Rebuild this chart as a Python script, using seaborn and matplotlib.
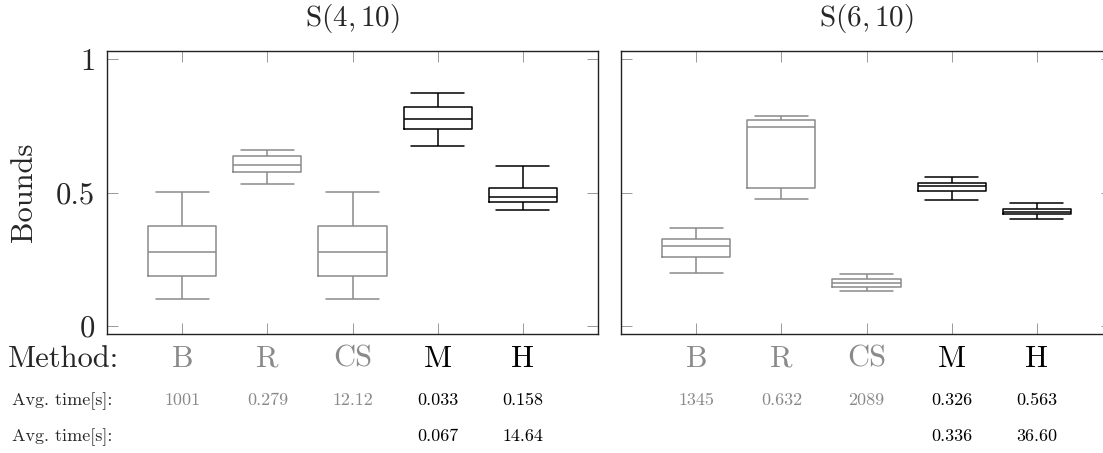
import matplotlib
matplotlib.use("Agg")
import matplotlib.pyplot as plt
import pandas as pd
import seaborn as sns


sns.set_style("ticks")
plt.rcParams["font.family"] = ["cmr10", "DejaVu Serif"]
plt.rcParams["mathtext.fontset"] = "cm"
plt.rcParams["axes.formatter.use_mathtext"] = True

methods = ["B", "R", "CS", "M", "H"]
method_colors = {"B": "#8a8a8a", "R": "#8a8a8a", "CS": "#8a8a8a", "M": "black", "H": "black"}

# five-number summaries: min, q1, median, q3, max
s4_min = [0.100, 0.533, 0.100, 0.675, 0.434]
s4_q1 = [0.187, 0.577, 0.187, 0.738, 0.463]
s4_med = [0.278, 0.603, 0.278, 0.777, 0.484]
s4_q3 = [0.375, 0.635, 0.375, 0.820, 0.516]
s4_max = [0.503, 0.658, 0.503, 0.873, 0.598]

s6_min = [0.197, 0.474, 0.130, 0.472, 0.402]
s6_q1 = [0.257, 0.516, 0.146, 0.506, 0.419]
s6_med = [0.298, 0.747, 0.160, 0.524, 0.428]
s6_q3 = [0.326, 0.770, 0.175, 0.537, 0.438]
s6_max = [0.368, 0.788, 0.195, 0.557, 0.459]

s4_time_1 = ["1001", "0.279", "12.12", "0.033", "0.158"]
s4_time_2 = ["", "", "", "0.067", "14.64"]
s6_time_1 = ["1345", "0.632", "2089", "0.326", "0.563"]
s6_time_2 = ["", "", "", "0.336", "36.60"]

panels = [
    ("$\\mathrm{S}(4,10)$", [s4_min, s4_q1, s4_med, s4_q3, s4_max], s4_time_1, s4_time_2),
    ("$\\mathrm{S}(6,10)$", [s6_min, s6_q1, s6_med, s6_q3, s6_max], s6_time_1, s6_time_2),
]


def to_long(stats):
    rows = []
    for i, m in enumerate(methods):
        for col in stats:
            rows.append({"method": m, "bound": col[i]})
    return pd.DataFrame(rows)


W, H = 1103, 453
fig = plt.figure(figsize=(W / 100, H / 100), dpi=100)
ax_w, ax_h = 491 / W, 283 / H
ax_bottom = (H - 334) / H
lefts = [107 / W, 621 / W]
small = 13

for k, (title, stats, t1, t2) in enumerate(panels):
    ax = fig.add_axes([lefts[k], ax_bottom, ax_w, ax_h])
    df = to_long(stats)
    sns.boxplot(
        data=df, x="method", y="bound", hue="method", order=methods,
        hue_order=methods, palette=method_colors, fill=False, width=0.8,
        whis=(0, 100), linewidth=1.1, legend=False, ax=ax, capwidths=0.63,
    )
    ax.set_xlim(-0.888, 4.888)
    ax.set_ylim(-0.03, 1.03)
    ax.set_yticks([0, 0.5, 1])
    ax.set_xticks(range(len(methods)))
    ax.set_xticklabels([])
    if k == 0:
        ax.set_yticklabels(["0", "0.5", "1"], fontsize=22)
    else:
        ax.set_yticklabels([])
    ax.tick_params(direction="in", length=8, width=0.7, color="#999999",
                   top=True, right=True, pad=8.5)
    for sp in ax.spines.values():
        sp.set_visible(True)
        sp.set_color("#222222")
        sp.set_linewidth(1.0)
    ax.set_xlabel("")
    ax.set_ylabel("")
    ax.set_title(title, fontsize=21, pad=18)

    tr = ax.get_xaxis_transform()
    for i, m in enumerate(methods):
        c = method_colors[m]
        ax.text(i, -0.1166, m, transform=tr, ha="center", va="baseline",
                fontsize=22, color=c, clip_on=False)
        ax.text(i, -0.251, t1[i], transform=tr, ha="center", va="baseline",
                fontsize=small, color=c, clip_on=False)
        ax.text(i, -0.378, t2[i], transform=tr, ha="center", va="baseline",
                fontsize=small, color=c, clip_on=False)

fig.text(8 / W, 1 - 367 / H, "Method:", ha="left", va="baseline", fontsize=22)
fig.text(12 / W, 1 - 405 / H, "Avg. time[s]:", ha="left", va="baseline", fontsize=small)
fig.text(12 / W, 1 - 441 / H, "Avg. time[s]:", ha="left", va="baseline", fontsize=small)
fig.text(24 / W, 1 - 192.5 / H, "Bounds", rotation=90, ha="center", va="center", fontsize=22)

fig.savefig("out.png", dpi=100)
plt.close(fig)
